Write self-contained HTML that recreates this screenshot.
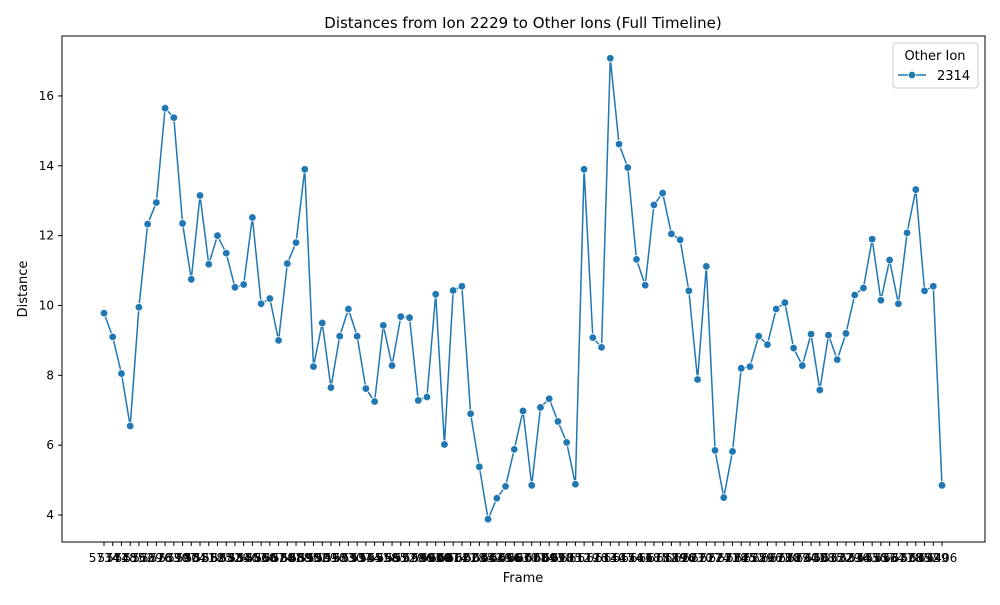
<!DOCTYPE html>
<html><head><meta charset="utf-8"><style>
body{margin:0;background:#fff;font-family:"Liberation Sans","DejaVu Sans",sans-serif}
svg text{font-family:"DejaVu Sans","Liberation Sans",sans-serif}
</style></head><body>
<svg id="c" width="1000" height="600"></svg>
<script>
const distances=[9.78,9.1,8.05,6.55,9.95,12.33,12.95,15.65,15.38,12.35,10.75,13.15,11.18,12.0,11.5,10.52,10.6,12.52,10.05,10.2,9.0,11.2,11.8,13.9,8.25,9.5,7.65,9.12,9.9,9.12,7.62,7.25,9.43,8.28,9.68,9.65,7.28,7.38,10.32,6.02,10.43,10.55,6.9,5.38,3.88,4.48,4.82,5.88,6.98,4.85,7.08,7.33,6.68,6.08,4.88,13.9,9.08,8.8,17.08,14.62,13.95,11.32,10.58,12.88,13.22,12.05,11.88,10.42,7.88,11.12,5.85,4.5,5.82,8.2,8.25,9.12,8.88,9.9,10.08,8.78,8.28,9.18,7.58,9.15,8.45,9.2,10.3,10.5,11.9,10.15,11.3,10.05,12.08,13.32,10.42,10.55,4.85];
const frames=distances.map((d,i)=>String(5734+i*7));
const yTicks=[4,6,8,10,12,14,16];
const NS="http://www.w3.org/2000/svg";
const svg=document.getElementById('c');
function mk(t,a,p){const e=document.createElementNS(NS,t);for(const k in a)e.setAttribute(k,a[k]);(p||svg).appendChild(e);return e;}
const L=62,R=985,T=36,B=542;
const n=distances.length;
const xs=i=>104+(942-104)*i/(n-1);
const ys=v=>515-(v-4)*34.92;
const frame=mk('rect',{x:L,y:T,width:R-L,height:B-T,fill:'none',stroke:'#000','stroke-width':1});


const xt=mk('g',{});


frames.forEach((f,i)=>{
  mk('line',{x1:xs(i),x2:xs(i),y1:B,y2:B+4,stroke:'#000'},xt);
  const t=mk('text',{x:xs(i),y:B+20,'font-size':12,'text-anchor':'middle',fill:'#000'},xt);
  t.textContent=f;
});
const yt=mk('g',{});


yTicks.forEach(v=>{
  mk('line',{x1:L-4,x2:L,y1:ys(v),y2:ys(v),stroke:'#000'},yt);
  const t=mk('text',{x:L-8,y:ys(v)+4,'font-size':12,'text-anchor':'end',fill:'#000'},yt);
  t.textContent=v;
});
const title=mk('text',{x:523,y:28,'font-size':15,'text-anchor':'middle'});
title.textContent='Distances from Ion 2229 to Other Ions (Full Timeline)';


const xl=mk('text',{x:523,y:582,'font-size':13,'text-anchor':'middle'});
xl.textContent='Frame';


const yl=mk('text',{x:27,y:289,'font-size':13,'text-anchor':'middle',transform:'rotate(-90 27 289)'});
yl.textContent='Distance';


const line=mk('polyline',{points:distances.map((d,i)=>xs(i)+','+ys(d)).join(' '),fill:'none',stroke:'#1f77b4','stroke-width':1.5});


distances.forEach((d,i)=>{
  const c=mk('circle',{cx:xs(i),cy:ys(d),r:3.8,fill:'#1f77b4',stroke:'#fff','stroke-width':0.8});
  
  
});
const lg=mk('g',{});


mk('rect',{x:893,y:43,width:85,height:45,rx:3,fill:'#fff',stroke:'#ccc'},lg);
const lt=mk('text',{x:935,y:60,'font-size':13,'text-anchor':'middle'},lg);
lt.textContent='Other Ion';
mk('line',{x1:898,x2:926,y1:75,y2:75,stroke:'#1f77b4','stroke-width':1.5},lg);
mk('circle',{cx:912,cy:75,r:3.8,fill:'#1f77b4',stroke:'#fff','stroke-width':0.8},lg);
const le=mk('text',{x:937,y:80,'font-size':13},lg);
le.textContent='2314';


</script>
</body></html>
